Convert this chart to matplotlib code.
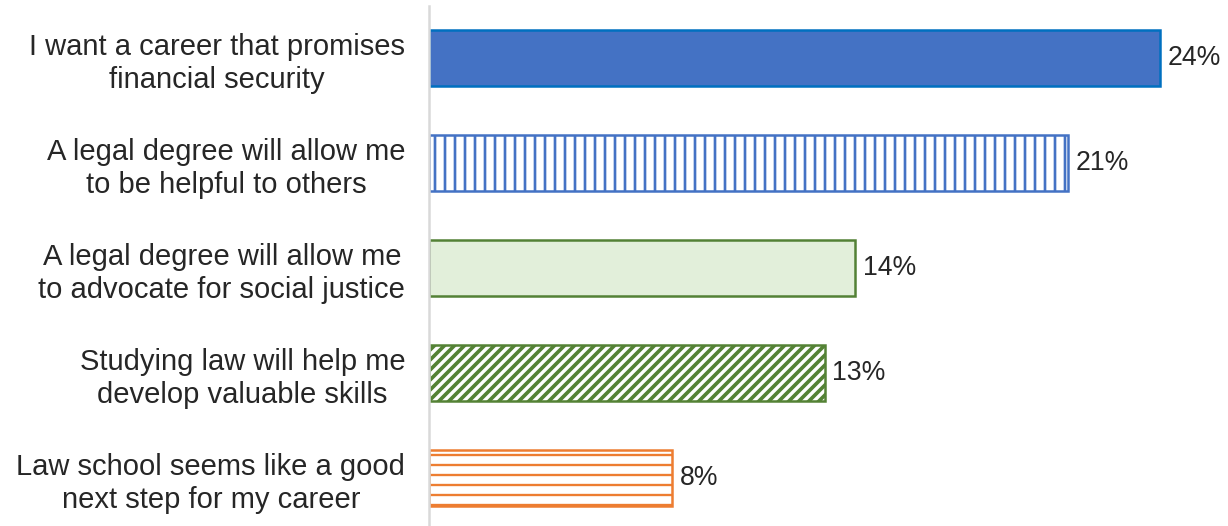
"""
Reasons for going to law school - horizontal bar chart
"""
import matplotlib.pyplot as plt

plt.rcParams["font.family"] = ["Liberation Sans", "DejaVu Sans"]

# data
reasons = [
    "I want a career that promises\nfinancial security",
    "A legal degree will allow me\nto be helpful to others",
    "A legal degree will allow me\nto advocate for social justice",
    "Studying law will help me\ndevelop valuable skills",
    "Law school seems like a good\nnext step for my career",
]
shares = [24, 21, 14, 13, 8]

# style per bar: face, edge, hatch
faces = ["#4472C4", "white", "#E2EFDA", "white", "white"]
edges = ["#0070C0", "#4472C4", "#538135", "#548235", "#ED7D31"]
hatches = [None, "||", None, "////", "--"]
hatch_lw = [1.0, 1.6, 1.0, 2.2, 1.4]

DPI = 120
fig = plt.figure(figsize=(1228 / DPI, 526 / DPI), dpi=DPI)
ax = fig.add_axes([0.349, -0.0086, 0.645, 0.998])

for i, (v, fc, ec, h, hl) in enumerate(zip(shares, faces, edges, hatches, hatch_lw)):
    with plt.rc_context({"hatch.linewidth": hl}):
        ax.barh(i, v, height=0.53, color=fc, edgecolor=ec, hatch=h, linewidth=1.5)
    ax.text(v + 0.25, i, f"{v}%", va="center", ha="left", fontsize=16, color="#262626")

ax.set_ylim(4.5, -0.5)
ax.set_xlim(0, 26)
ax.set_yticks(range(len(reasons)))
ax.set_yticklabels(reasons, fontsize=17.5, color="#262626", multialignment="center",
                   linespacing=1.22)
ax.tick_params(axis="y", length=0, pad=14)
ax.set_xticks([])
for s in ["top", "right", "bottom"]:
    ax.spines[s].set_visible(False)
ax.spines["left"].set_color("#D9D9D9")
ax.spines["left"].set_linewidth(1.5)

fig.savefig("out.png", dpi=DPI)
